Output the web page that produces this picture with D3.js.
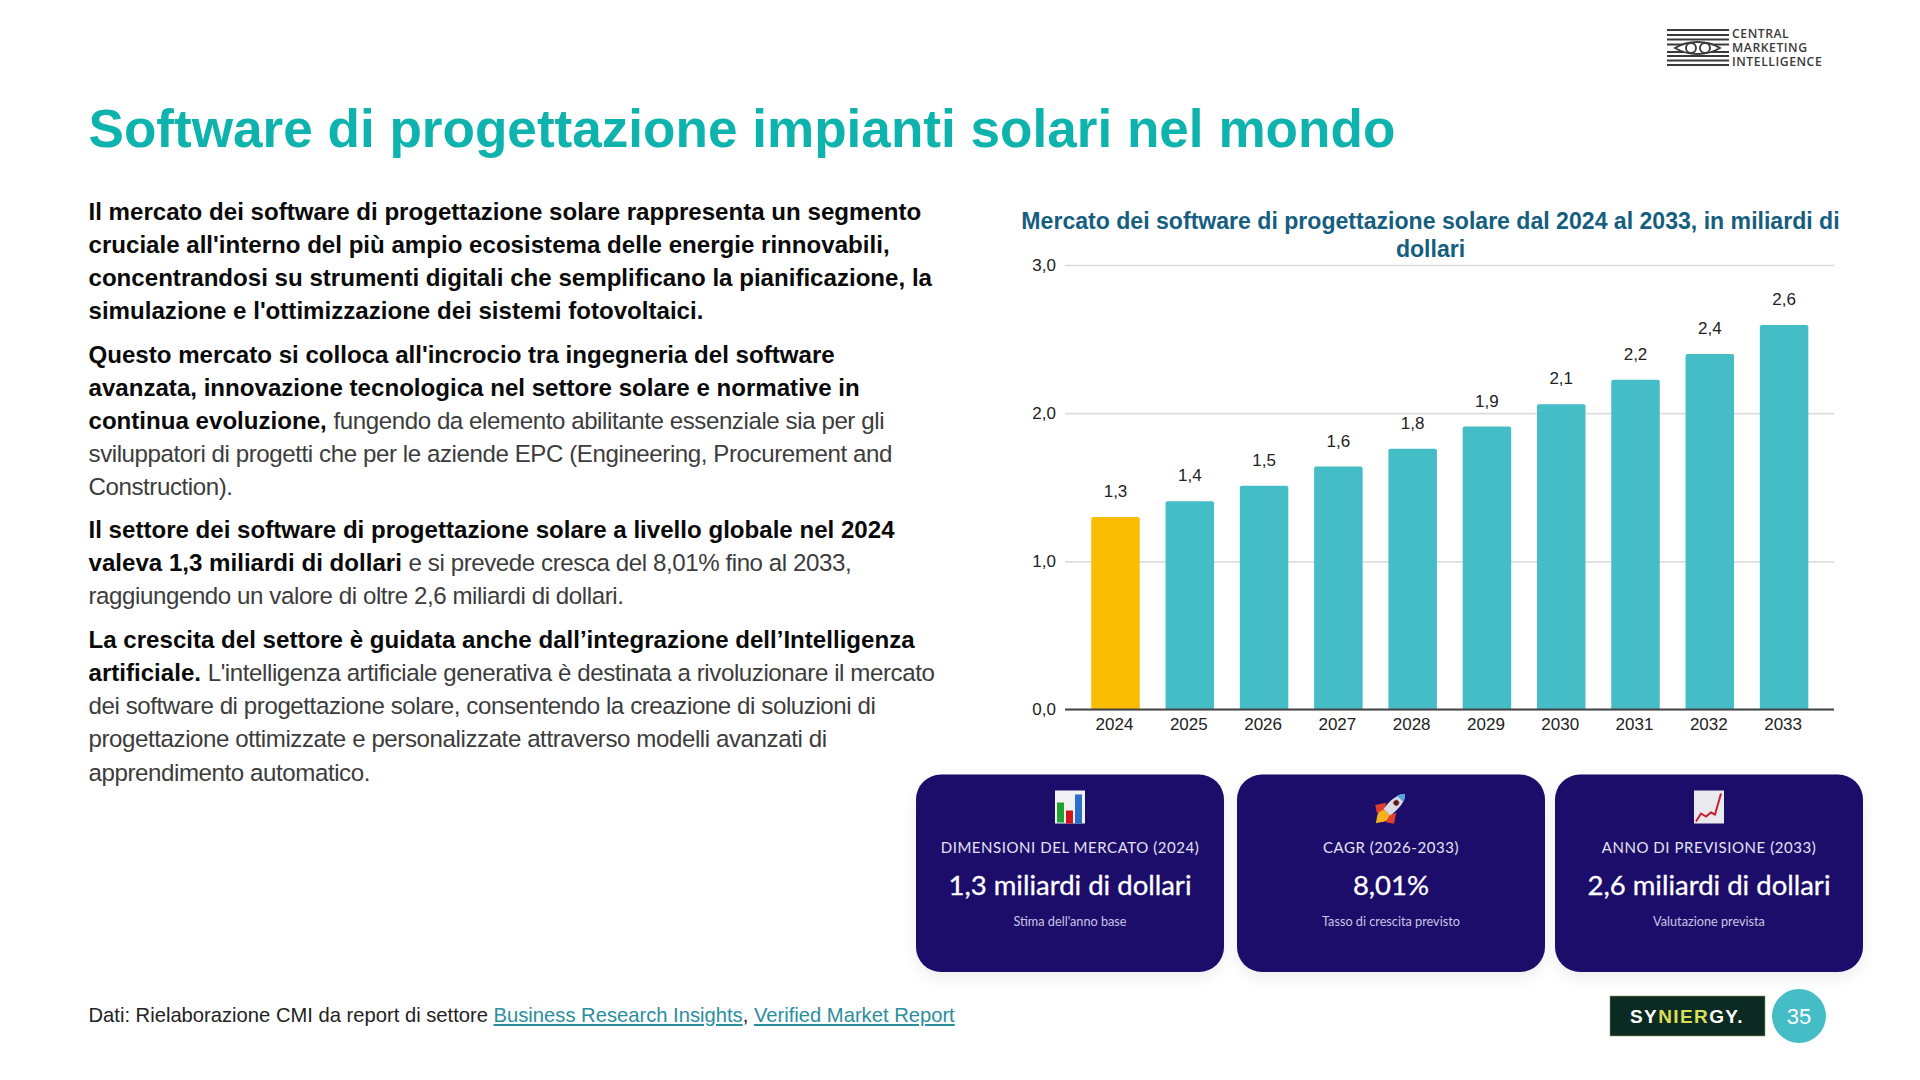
<!DOCTYPE html>
<html><head><meta charset="utf-8">
<script src="https://cdn.jsdelivr.net/npm/d3@7/dist/d3.min.js"></script>
<style>html,body{margin:0;padding:0;background:#fff;overflow:hidden}svg{display:block}text{white-space:pre}</style>
</head><body><div id="c"></div>
<script>
const years=["2024","2025","2026","2027","2028","2029","2030","2031","2032","2033"];
const values=[1.3,1.405,1.51,1.64,1.76,1.91,2.06,2.225,2.4,2.595];
const valueLabels=["1,3","1,4","1,5","1,6","1,8","1,9","2,1","2,2","2,4","2,6"];
const yTicks=[0,1,2,3];
const barColors=["#FBBC04","#45BDC6"];
const paragraphs=[
 {y:219.5,lines:[[["Il mercato dei software di progettazione solare rappresenta un segmento",1]],[["cruciale all'interno del più ampio ecosistema delle energie rinnovabili,",1]],[["concentrandosi su strumenti digitali che semplificano la pianificazione, la",1]],[["simulazione e l'ottimizzazione dei sistemi fotovoltaici.",1]]]},
 {y:362.5,lines:[[["Questo mercato si colloca all'incrocio tra ingegneria del software",1]],[["avanzata, innovazione tecnologica nel settore solare e normative in",1]],[["continua evoluzione, ",1],["fungendo da elemento abilitante essenziale sia per gli",0]],[["sviluppatori di progetti che per le aziende EPC (Engineering, Procurement and",0]],[["Construction).",0]]]},
 {y:537.5,lines:[[["Il settore dei software di progettazione solare a livello globale nel 2024",1]],[["valeva 1,3 miliardi di dollari ",1],["e si prevede cresca del 8,01% fino al 2033,",0]],[["raggiungendo un valore di oltre 2,6 miliardi di dollari.",0]]]},
 {y:648,lines:[[["La crescita del settore è guidata anche dall’integrazione dell’Intelligenza",1]],[["artificiale. ",1],["L'intelligenza artificiale generativa è destinata a rivoluzionare il mercato",0]],[["dei software di progettazione solare, consentendo la creazione di soluzioni di",0]],[["progettazione ottimizzate e personalizzate attraverso modelli avanzati di",0]],[["apprendimento automatico.",0]]]}
];
const cards=[
 {x:916,t:"DIMENSIONI DEL MERCATO (2024)",v:"1,3 miliardi di dollari",s:"Stima dell'anno base",icon:"bars"},
 {x:1237,t:"CAGR (2026-2033)",v:"8,01%",s:"Tasso di crescita previsto",icon:"rocket"},
 {x:1555,t:"ANNO DI PREVISIONE (2033)",v:"2,6 miliardi di dollari",s:"Valutazione prevista",icon:"trend"}
];
const sans="'Liberation Sans',Arial,sans-serif";
const svg=d3.select("#c").append("svg").attr("width",1920).attr("height",1080).style("font-family",sans);
svg.append("defs").append("filter").attr("id","sh").attr("x","-10%").attr("y","-10%").attr("width","120%").attr("height","130%")
  .append("feDropShadow").attr("dx",0).attr("dy",6).attr("stdDeviation",7).attr("flood-color","#000").attr("flood-opacity",.07);

svg.append("text").attr("x",88.5).attr("y",147).attr("font-size",53.1).attr("font-weight",700).attr("fill","#0DB3AC").text("Software di progettazione impianti solari nel mondo");

const LH=33.15;
paragraphs.forEach(p=>{
  p.lines.forEach((segs,i)=>{
    const t=svg.append("text").attr("x",88.5).attr("y",p.y+i*LH).attr("font-size",24.1);
    segs.forEach(s=>t.append("tspan").attr("font-weight",s[1]?700:400).attr("letter-spacing",s[1]?0:-.42).attr("fill",s[1]?"#0a0a0a":"#3c3c3c").text(s[0]));
  });
});

// chart
const x=d3.scaleBand().domain(years).range([1076.4,1823.2]).paddingInner(.347).paddingOuter(.2);
const y=d3.scaleLinear().domain([0,3]).range([709.5,265]);
const chartFont=sans;
svg.append("g").attr("font-weight",700).attr("font-size",23.08).attr("fill","#155E80").attr("text-anchor","middle")
 .selectAll("text").data(["Mercato dei software di progettazione solare dal 2024 al 2033, in miliardi di","dollari"]).join("text")
 .attr("x",1430.5).attr("y",(d,i)=>228.5+i*28).text(d=>d);
const yAxis=d3.axisLeft(y).tickValues(yTicks).tickSize(-(1834-1065)).tickFormat(d=>d3.format(".1f")(d).replace(".",","));
const gy=svg.append("g").attr("transform","translate(1065,0)").call(yAxis);
gy.select(".domain").remove();
gy.selectAll(".tick line").attr("stroke","#dcdcdc").attr("stroke-width",1.6);
gy.selectAll(".tick text").attr("x",-9).attr("font-family",chartFont).attr("font-size",17).attr("fill","#222");
svg.append("g").selectAll("path").data(years).join("path")
 .attr("fill",(d,i)=>i===0?barColors[0]:barColors[1])
 .attr("d",(d,i)=>{const bx=x(d),w=x.bandwidth(),t=y(values[i]),b=y(0),r=2;
   return `M${bx},${b}V${t+r}Q${bx},${t} ${bx+r},${t}H${bx+w-r}Q${bx+w},${t} ${bx+w},${t+r}V${b}Z`;});
const xAxis=d3.axisBottom(x).tickSize(0).tickPadding(8.5);
const gx=svg.append("g").attr("transform",`translate(-1,${y(0)})`).call(xAxis);
gx.select(".domain").remove();
gx.selectAll(".tick text").attr("font-family",chartFont).attr("font-size",17).attr("fill","#222");
svg.append("line").attr("x1",1065).attr("x2",1834).attr("y1",y(0)).attr("y2",y(0)).attr("stroke","#444").attr("stroke-width",2);
svg.append("g").attr("text-anchor","middle").attr("font-family",chartFont).attr("font-size",17).attr("fill","#222")
 .selectAll("text").data(years).join("text").attr("x",d=>x(d)+x.bandwidth()/2).attr("y",(d,i)=>y(values[i])-20).text((d,i)=>valueLabels[i]);

// cards
const W=308,CY=774.5,H=197.5;
const g=svg.append("g").selectAll("g").data(cards).join("g").attr("transform",d=>`translate(${d.x},${CY})`);
g.append("rect").attr("width",W).attr("height",H).attr("rx",25).attr("fill","#1A0A6B").attr("filter","url(#sh)");
const cf="Lato,'Noto Sans',sans-serif";
g.append("text").attr("x",W/2).attr("y",78).attr("text-anchor","middle").attr("font-family",cf).attr("font-size",15).attr("letter-spacing",.55).attr("fill","#E4E2F2").text(d=>d.t);
g.append("text").attr("x",W/2).attr("y",120).attr("text-anchor","middle").attr("font-family",cf).attr("font-size",27.5).attr("fill","#fff").attr("stroke","#fff").attr("stroke-width",.3).text(d=>d.v);
g.append("text").attr("x",W/2).attr("y",151).attr("text-anchor","middle").attr("font-family",cf).attr("font-size",12.7).attr("fill","#C9C6E4").text(d=>d.s);
g.each(function(d){
  const ic=d3.select(this).append("g").attr("transform",`translate(${W/2-15},16)`);
  if(d.icon==="bars"){
    ic.append("rect").attr("width",30).attr("height",33).attr("fill","#F2F2F4");
    [[1,12,"#1FA32E",20],[10,20,"#D4141C",13],[19,4,"#2A6FC9",29]].forEach(b=>ic.append("rect").attr("x",b[0]+1).attr("y",b[1]+0).attr("width",7).attr("height",b[3]).attr("fill",b[2]));
  } else if(d.icon==="trend"){
    ic.append("rect").attr("width",30).attr("height",33).attr("fill","#E9E9EE");
    ic.append("path").attr("d","M2,31L7,23L12,26L17,22L21,24L27,3").attr("fill","none").attr("stroke","#C8202A").attr("stroke-width",2);
  } else {
    const r=ic.append("g").attr("transform","translate(18.6,14) rotate(45) scale(.78)");
    r.append("path").attr("d","M-6,14C-11,22 -4,27 0,34C4,27 11,22 6,14Z").attr("fill","#F5B21E");
    r.append("path").attr("d","M-9,6L-17,18L-8,24L-5,14ZM9,6L17,18L8,24L5,14Z").attr("fill","#E0402A");
    r.append("path").attr("d","M0,-19C7,-12 8,0 6,14H-6C-8,0 -7,-12 0,-19Z").attr("fill","#D9DEE6");
    r.append("path").attr("d","M0,-19C3,-16 5,-13 5.5,-10H-5.5C-5,-13 -3,-16 0,-19Z").attr("fill","#5AA6DC");
    r.append("circle").attr("cy",-3).attr("r",3.4).attr("fill","#2A2438").attr("stroke","#C8302A").attr("stroke-width",1.2);
  }
});

// footer
const ft=svg.append("text").attr("x",88.5).attr("y",1022).attr("font-size",20.2).attr("fill","#222");
ft.append("tspan").text("Dati: Rielaborazione CMI da report di settore ");
ft.append("tspan").attr("fill","#2A8E9E").attr("text-decoration","underline").text("Business Research Insights");
ft.append("tspan").text(", ");
ft.append("tspan").attr("fill","#2A8E9E").attr("text-decoration","underline").text("Verified Market Report");

svg.append("rect").attr("x",1610).attr("y",996).attr("width",155).attr("height",40).attr("fill","#0B2B22").attr("stroke","#8d9a5a").attr("stroke-width",.6);
const sy=svg.append("text").attr("x",1687).attr("y",1023).attr("text-anchor","middle").attr("font-size",19).attr("font-weight",700).attr("letter-spacing",1.4).attr("fill","#fff");
[["SY","#fff"],["NIER","#D8DE5A"],["GY.","#fff"]].forEach(s=>sy.append("tspan").attr("fill",s[1]).text(s[0]));
svg.append("circle").attr("cx",1799).attr("cy",1016).attr("r",27).attr("fill","#45BDC6");
svg.append("text").attr("x",1799).attr("y",1024).attr("text-anchor","middle").attr("font-size",22).attr("fill","#fff").text("35");

// logo
const lg=svg.append("g").attr("stroke","#3a3a3a").attr("stroke-width",1.9);
[30,35,39.5,44.5,52,56,60.5,65].forEach(v=>lg.append("line").attr("x1",1667).attr("x2",1729).attr("y1",v).attr("y2",v));
lg.append("path").attr("d","M1675,48C1688,40 1707,40 1720,48C1707,56 1688,56 1675,48Z").attr("fill","#fff");
lg.append("circle").attr("cx",1691).attr("cy",48).attr("r",5).attr("fill","#fff");
lg.append("circle").attr("cx",1705).attr("cy",48).attr("r",5).attr("fill","#fff");
svg.append("g").attr("font-family","'Open Sans',Lato,sans-serif").attr("font-size",12.2).attr("font-weight",600).attr("fill","#3a3a3a").attr("letter-spacing",.55)
 .selectAll("text").data(["CENTRAL","MARKETING","INTELLIGENCE"]).join("text").attr("x",1732).attr("y",(d,i)=>38+i*14.2).text(d=>d);
</script></body></html>
